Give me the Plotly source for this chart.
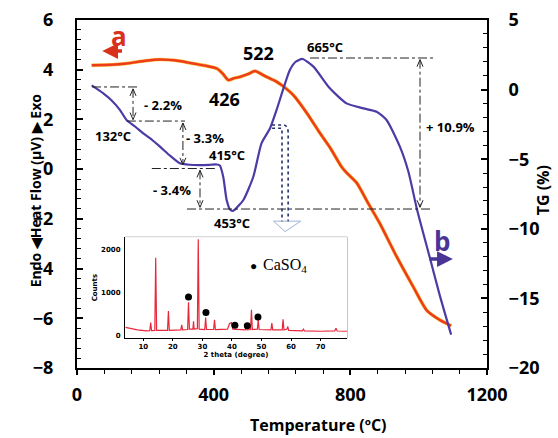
import plotly.graph_objects as go

# ---------------- data ----------------
# DTA curve (red, left axis): temperature (°C) and heat flow (µV)
dta_temp = [43, 100, 145, 200, 243, 300, 340, 380, 409, 426, 443, 460, 477, 500, 521,
            540, 555, 580, 599, 633, 673, 711, 740, 775, 790, 819, 852, 887, 936,
            984, 1023, 1062, 1095]
dta_heatflow = [4.18, 4.2, 4.25, 4.36, 4.41, 4.35, 4.25, 4.15, 4.05, 3.85, 3.58, 3.66,
                3.71, 3.82, 3.95, 3.82, 3.71, 3.55, 3.38, 2.98, 2.25, 1.45, 0.88, 0.08,
                -0.16, -0.56, -1.37, -2.2, -3.53, -4.73, -5.67, -6.07, -6.3]

# TG curve (blue, right axis): temperature (°C) and mass change (%)
tg_temp = [43, 77, 100, 126, 145, 170, 194, 220, 243, 270, 301, 330, 360, 390, 409,
           418, 428, 438, 448, 455, 462, 487, 516, 540, 565, 584, 623, 640, 660,
           692, 740, 789, 838, 877, 906, 945, 970, 995, 1033, 1062, 1095]
tg_percent = [0.3, -0.27, -0.75, -1.47, -2.18, -2.65, -3.14, -3.62, -4.1, -4.7, -5.29,
              -5.4, -5.42, -5.4, -5.38, -5.45, -6.26, -7.93, -8.62, -8.72, -8.62, -7.93,
              -6.26, -3.86, -2.78, -1.47, 1.4, 2.0, 2.2, 1.65, 0.09, -0.99, -1.35,
              -1.59, -2.18, -4.1, -5.9, -8.6, -12.1, -14.8, -17.6]

# Inset XRD pattern
xrd_2theta = [4, 6, 8, 11, 12.2, 12.5, 12.8, 13.9, 14.2, 14.5, 18.2, 18.5, 18.8, 22.7,
              23.0, 23.3, 25.0, 25.3, 25.6, 26.8, 27.0, 27.2, 28.3, 28.6, 28.9, 30.8,
              31.1, 31.4, 33.8, 34.1, 34.4, 38.5, 39.2, 39.8, 40.3, 44.5, 44.8, 45.1,
              46.3, 46.6, 46.9, 48.6, 48.9, 49.2, 53.2, 53.5, 53.8, 57.0, 57.3, 57.6,
              58.6, 58.9, 59.2, 63.8, 64.2, 64.5, 70, 74.8, 75.2, 75.6, 79]
xrd_counts = [190, 160, 130, 110, 115, 300, 115, 120, 1820, 120, 120, 570, 120, 130,
              250, 130, 140, 780, 150, 150, 330, 150, 160, 2250, 150, 140, 420, 140,
              140, 370, 140, 150, 280, 300, 150, 130, 200, 130, 140, 600, 140, 150, 360,
              140, 130, 290, 130, 130, 380, 130, 150, 210, 120, 110, 150, 110, 100, 110,
              170, 105, 100]
caso4_2theta = [25.3, 31.2, 41.0, 45.2, 48.8]
caso4_counts = [900, 540, 240, 230, 430]

x_ticks = [0, 400, 800, 1200]
left_ticks = [-8, -6, -4, -2, 0, 2, 4, 6]
right_ticks = [-20, -15, -10, -5, 0, 5]
xrd_x_ticks = [10, 20, 30, 40, 50, 60, 70]
xrd_y_ticks = [0, 1000, 2000]

# ---------------- style ----------------
RED = "#ee3b1a"
GLOW = "#f6c040"
BLUE = "#4b3ba5"
XRD_RED = "#e8283a"
FONT = "Open Sans"
W, H = 558, 438

fig = go.Figure()

fig.add_trace(go.Scatter(x=dta_temp, y=dta_heatflow, mode="lines",
                         line=dict(color=GLOW, width=3.6, shape="spline", smoothing=0.6),
                         hoverinfo="skip", showlegend=False))
fig.add_trace(go.Scatter(x=dta_temp, y=dta_heatflow, mode="lines",
                         line=dict(color=RED, width=2.4, shape="spline", smoothing=0.6),
                         showlegend=False))
fig.add_trace(go.Scatter(x=tg_temp, y=tg_percent, mode="lines", yaxis="y2",
                         line=dict(color=BLUE, width=2.2, shape="spline", smoothing=0.6),
                         showlegend=False))

# inset XRD
fig.add_trace(go.Scatter(x=xrd_2theta, y=xrd_counts, mode="lines", xaxis="x2", yaxis="y3",
                         line=dict(color=XRD_RED, width=1.2), showlegend=False))
fig.add_trace(go.Scatter(x=caso4_2theta, y=caso4_counts, mode="markers", xaxis="x2",
                         yaxis="y3", marker=dict(color="black", size=7), showlegend=False))

shapes = []
annotations = []

DD = dict(color="#222222", width=1, dash="dashdot")


def hline(x0, x1, y):
    shapes.append(dict(type="line", xref="x", yref="y2", x0=x0, x1=x1, y0=y, y1=y,
                       line=DD, layer="above"))


def chevron(x, y, up):
    p = "M-3,-7 L0,0 L3,-7" if up else "M-3,7 L0,0 L3,7"
    shapes.append(dict(type="path", xref="x", yref="y2", xsizemode="pixel",
                       ysizemode="pixel", xanchor=x, yanchor=y, path=p,
                       line=dict(color="#222222", width=1)))


def varrow(x, ytop, ybot):
    shapes.append(dict(type="line", xref="x", yref="y2", x0=x, x1=x, y0=ytop, y1=ybot,
                       line=dict(color="#222222", width=1, dash="dashdot")))
    chevron(x, ytop, True)
    chevron(x, ybot, False)


hline(44, 184, 0.19)
hline(146, 316, -2.26)
hline(219, 410, -5.67)
hline(322, 1042, -8.58)
hline(682, 1042, 2.27)
varrow(164, 0.05, -2.15)
varrow(310, -2.4, -5.4)
varrow(360, -5.8, -8.45)
varrow(1004, 2.15, -8.45)

# dotted connector from curve to inset
DOT = dict(color="#27306e", width=1.6, dash="dot")
shapes.append(dict(type="path", xref="x", yref="y2",
                   path="M571,-2.54 L605,-2.54 Q618,-2.6 618,-3.1 L618,-9.5", line=DOT))
shapes.append(dict(type="path", xref="x", yref="y2",
                   path="M571,-2.78 L600,-2.78 L600,-9.5", line=DOT))
shapes.append(dict(type="path", xref="x", yref="y2",
                   path="M575,-9.45 L655,-9.45 L609,-10.2 Z",
                   line=dict(color="#9fb4d8", width=1)))

# inset frame
IX = [0.117, 0.659]
IY = [0.086, 0.376]
shapes.append(dict(type="rect", xref="paper", yref="paper", x0=IX[0], x1=IX[1], y0=IY[0],
                   y1=IY[1], line=dict(color="#9a9a9a", width=1), fillcolor="white",
                   layer="below"))


def label(text, x, y, size=13, yref="y2", color="black", family=FONT):
    annotations.append(dict(text=text, x=x, y=y, xref="x", yref=yref, showarrow=False,
                            font=dict(family=family, size=size, color=color,
                                      weight="bold")))


label("- 2.2%", 252, -1.11)
label("- 3.3%", 375, -3.48)
label("132°C", 105, -3.33)
label("415°C", 439, -4.71)
label("- 3.4%", 278, -7.21)
label("453°C", 454, -9.58)
label("665°C", 726, 3.06)
label("+ 10.9%", 1092, -2.69)
label("522", 530, 4.67, size=18, yref="y")
label("426", 433, 2.82, size=18, yref="y")
label("a", 122, 5.35, size=26, yref="y", color="#d8321c")
label("b", 1068, -10.9, size=26, color="#4a3596")

annotations.append(dict(x=74, y=4.75, ax=136, ay=4.75, xref="x", yref="y", axref="x",
                        ayref="y", showarrow=True, arrowhead=2, arrowsize=0.9,
                        arrowwidth=3.5, arrowcolor="#d8321c", text=""))
annotations.append(dict(x=1100, y=-12.17, ax=1027, ay=-12.17, xref="x", yref="y2",
                        axref="x", ayref="y2", showarrow=True, arrowhead=2,
                        arrowsize=0.9, arrowwidth=3.5, arrowcolor="#4a3596", text=""))

# axis titles as paper annotations
annotations.append(dict(text="Temperature (ºC)", x=0.59, y=-0.164, xref="paper",
                        yref="paper", xanchor="center", yanchor="middle", showarrow=False,
                        font=dict(family=FONT, size=16, color="black", weight="bold")))
annotations.append(dict(text="Endo ◀Heat Flow (μV) ▶ Exo", x=-0.102, y=0.511,
                        xref="paper", yref="paper", xanchor="center", yanchor="middle",
                        textangle=-90, showarrow=False,
                        font=dict(family=FONT, size=14, color="black", weight="bold")))
annotations.append(dict(text="TG (%)", x=1.137, y=0.511, xref="paper", yref="paper",
                        xanchor="center", yanchor="middle",
                        textangle=-90, showarrow=False,
                        font=dict(family=FONT, size=16, color="black", weight="bold")))

# inset legend
annotations.append(dict(text="●", x=47.2, y=1630, xref="x2", yref="y3", showarrow=False,
                        font=dict(size=12, color="black")))
annotations.append(dict(text="CaSO<sub>4</sub>", x=50, y=1630, xref="x2", yref="y3",
                        xanchor="left", showarrow=False,
                        font=dict(family="Liberation Serif", size=16, color="black")))

tickfont = dict(family=FONT, size=18, color="black", weight="bold")
small = dict(family="DejaVu Sans", size=7, color="black", weight="bold")

fig.update_layout(
    width=W, height=H,
    margin=dict(l=77, r=71, t=20, b=70),
    paper_bgcolor="white", plot_bgcolor="white",
    showlegend=False,
    shapes=shapes, annotations=annotations,
    xaxis=dict(range=[0, 1200], tickvals=x_ticks, showgrid=False, zeroline=False,
               automargin=False,
               showline=True, linewidth=2, linecolor="black", mirror=True,
               ticks="outside", ticklen=5, tickwidth=2, tickcolor="black",
               minor=dict(dtick=80, ticks="outside", ticklen=4, tickwidth=1,
                          tickcolor="black"),
               tickfont=tickfont, ticklabelstandoff=4),
    yaxis=dict(range=[-8, 6], tickvals=left_ticks, showgrid=False, zeroline=False,
               automargin=False,
               showline=True, linewidth=2, linecolor="black",
               ticks="inside", ticklen=6, tickwidth=2, tickcolor="black",
               minor=dict(dtick=0.4, ticks="inside", ticklen=4, tickwidth=1,
                          tickcolor="black"),
               tickfont=tickfont, ticklabelstandoff=18),
    yaxis2=dict(range=[-20, 5], tickvals=right_ticks, overlaying="y", side="right",
                automargin=False,
                showgrid=False, zeroline=False, showline=True, linewidth=2,
                linecolor="black", ticks="inside", ticklen=6, tickwidth=2,
                tickcolor="black",
                minor=dict(dtick=1, ticks="inside", ticklen=4, tickwidth=1,
                           tickcolor="black"),
                tickfont=tickfont, ticklabelstandoff=16),
    xaxis2=dict(domain=IX, anchor="y3", range=[3.8, 79], tickvals=xrd_x_ticks,
                automargin=False,
                showgrid=False, zeroline=False, showline=True, linewidth=1,
                linecolor="black", ticks="outside", ticklen=2, tickcolor="black",
                tickfont=small, ticklabelstandoff=0,
                title=dict(text="2 theta (degree)", font=small, standoff=0)),
    yaxis3=dict(domain=IY, anchor="x2", range=[-60, 2300], tickvals=xrd_y_ticks,
                automargin=False,
                showgrid=False, zeroline=False, showline=True, linewidth=1,
                linecolor="black", ticks="", tickfont=small, ticklabelstandoff=2,
                title=dict(text="Counts", font=small, standoff=2)),
)

fig.write_html("out.html", config={"displayModeBar": False},
               post_script="document.body.style.margin='0';document.body.style.overflow='hidden';")
